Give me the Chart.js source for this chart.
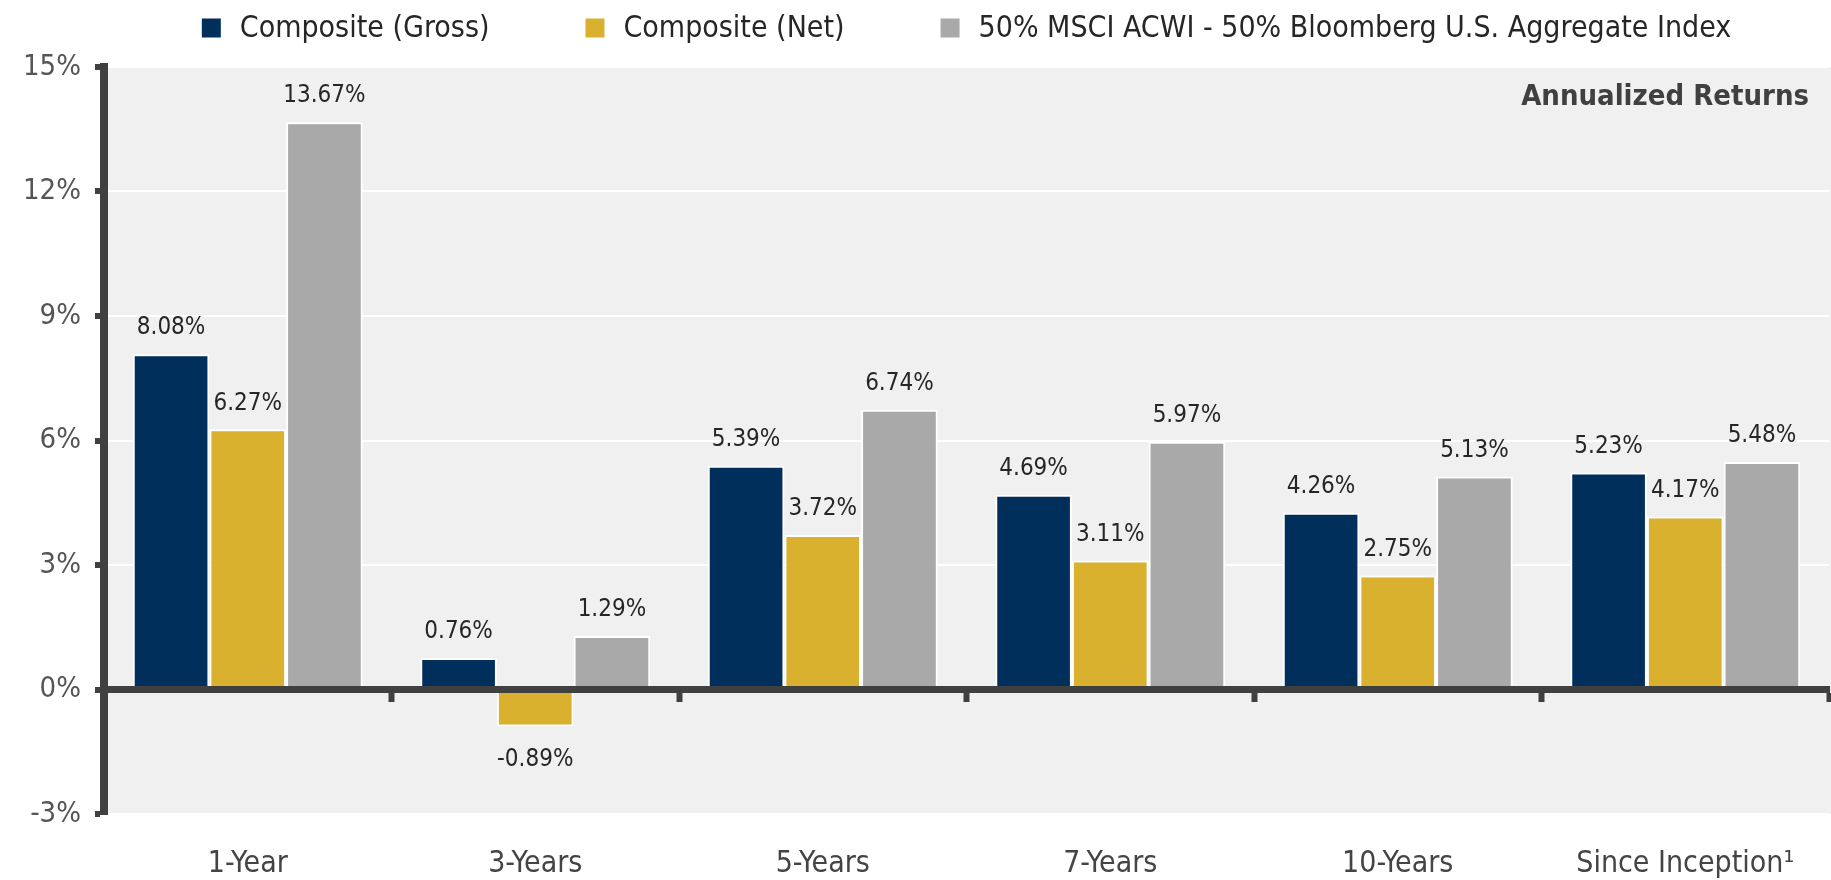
<!DOCTYPE html>
<html>
<head>
<meta charset="utf-8">
<title>Annualized Returns</title>
<script src="https://cdn.jsdelivr.net/npm/chart.js@4.4.1/dist/chart.umd.min.js"></script>
<style>
  html, body { margin: 0; padding: 0; background: #fff; }
  canvas { display: block; }
</style>
</head>
<body>
<canvas id="returnsChart" width="1831" height="880"></canvas>
<script>
/* Annualized returns: composite gross / net vs. blended benchmark */

const categories = ["1-Year", "3-Years", "5-Years", "7-Years", "10-Years", "Since Inception\u00b9"];
const grossReturns = [8.08, 0.76, 5.39, 4.69, 4.26, 5.23];
const netReturns = [6.27, -0.89, 3.72, 3.11, 2.75, 4.17];
const benchReturns = [13.67, 1.29, 6.74, 5.97, 5.13, 5.48];
const seriesNames = [
  "Composite (Gross)",
  "Composite (Net)",
  "50% MSCI ACWI - 50% Bloomberg U.S. Aggregate Index",
];
const yTicks = [-3, 0, 3, 6, 9, 12, 15];
const chartTitle = "Annualized Returns";

const COLORS = {
  gross: "#002f5b",
  net: "#dab12f",
  bench: "#a9a9a9",
  axis: "#404040",
  panel: "#f0f0f0",
  text: "#262626",
  tick: "#555555",
};
const FONT = "'DejaVu Sans Condensed', 'Liberation Sans Narrow', 'Arial Narrow', Roboto, sans-serif";

const fmtPct = (v) => `${v.toFixed(2)}%`;

const panelBackground = {
  id: "panelBackground",
  beforeDraw(chart) {
    const { ctx, chartArea: a } = chart;
    ctx.save();
    ctx.fillStyle = COLORS.panel;
    ctx.fillRect(a.left, a.top, a.right - a.left + 2, a.bottom - a.top);
    ctx.restore();
  },
};

const barLabels = {
  id: "barLabels",
  afterDraw(chart) {
    const { ctx } = chart;
    ctx.save();
    ctx.font = `24px ${FONT}`;
    ctx.fillStyle = COLORS.text;
    ctx.textAlign = "center";
    chart.data.datasets.forEach((ds, i) => {
      chart.getDatasetMeta(i).data.forEach((bar, j) => {
        const v = ds.data[j];
        if (v >= 0) {
          ctx.textBaseline = "bottom";
          ctx.fillText(fmtPct(v), bar.x, bar.y - 14);
        } else {
          ctx.textBaseline = "top";
          ctx.fillText(fmtPct(v), bar.x, bar.y + 21);
        }
      });
    });
    ctx.restore();
  },
};

const cornerTitle = {
  id: "cornerTitle",
  afterDraw(chart) {
    const { ctx, chartArea: a } = chart;
    ctx.save();
    ctx.font = `bold 29px ${FONT}`;
    ctx.fillStyle = COLORS.axis;
    ctx.textAlign = "right";
    ctx.textBaseline = "middle";
    ctx.fillText(chartTitle, a.right - 20, a.top + 30);
    ctx.restore();
  },
};

const topLegend = {
  id: "topLegend",
  afterDraw(chart) {
    const { ctx, chartArea: a } = chart;
    const box = 19, gapText = 19, gapItem = 96, y = 28;
    ctx.save();
    ctx.font = `30px ${FONT}`;
    ctx.textBaseline = "middle";
    const widths = chart.data.datasets.map((ds) => ctx.measureText(ds.label).width);
    const total = widths.reduce((s, w) => s + box + gapText + w, 0) + gapItem * (widths.length - 1);
    let x = (a.left + a.right) / 2 - total / 2;
    chart.data.datasets.forEach((ds, i) => {
      ctx.fillStyle = ds.backgroundColor;
      ctx.fillRect(x, y - box / 2, box, box);
      ctx.fillStyle = COLORS.text;
      ctx.fillText(ds.label, x + box + gapText, y + 1);
      x += box + gapText + widths[i] + gapItem;
    });
    ctx.restore();
  },
};

const barStyle = {
  borderColor: "#ffffff",
  borderWidth: 2,
  categoryPercentage: 0.8,
  barPercentage: 1.0,
};

new Chart(document.getElementById("returnsChart"), {
  type: "bar",
  data: {
    labels: categories,
    datasets: [
      { label: seriesNames[0], data: grossReturns, backgroundColor: COLORS.gross, ...barStyle },
      { label: seriesNames[1], data: netReturns, backgroundColor: COLORS.net, ...barStyle },
      { label: seriesNames[2], data: benchReturns, backgroundColor: COLORS.bench, ...barStyle },
    ],
  },
  options: {
    responsive: false,
    animation: false,
    layout: { padding: { top: 67, right: 2, left: 0, bottom: 0 } },
    plugins: {
      legend: { display: false },
      tooltip: { enabled: false },
    },
    scales: {
      x: {
        position: { y: 0 },
        offset: true,
        grid: { offset: true, drawOnChartArea: false, tickColor: COLORS.axis, tickLength: 9, tickWidth: 6 },
        border: { color: COLORS.axis, width: 7, z: 1 },
        ticks: { display: false },
      },
      x2: {
        type: "category",
        position: "bottom",
        offset: true,
        grid: { display: false, drawTicks: false },
        border: { display: false },
        ticks: { font: { family: FONT, size: 30 }, color: "#444", padding: 32 },
        afterFit: (s) => { s.height = 66; },
      },
      y: {
        min: -3,
        max: 15,
        afterBuildTicks: (s) => { s.ticks = yTicks.map((v) => ({ value: v })); },
        afterFit: (s) => { s.width = 104; },
        grid: { color: "#ffffff", lineWidth: 2, tickColor: COLORS.axis, tickLength: 9, tickWidth: 6 },
        border: { color: COLORS.axis, width: 8, z: 1 },
        ticks: { font: { family: FONT, size: 29 }, color: COLORS.tick, padding: 14, callback: (v) => `${v}%` },
      },
    },
  },
  plugins: [panelBackground, barLabels, cornerTitle, topLegend],
});
</script>
</body>
</html>
